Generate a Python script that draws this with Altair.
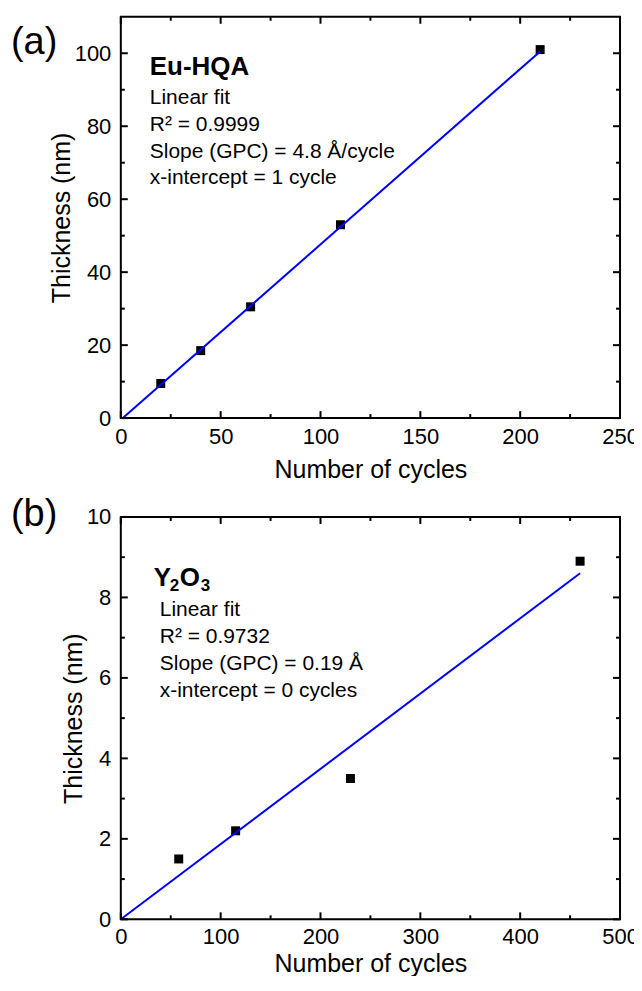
import altair as alt
import pandas as pd

# ---------------- data ----------------
a_cycles = [20, 40, 65, 110, 210]
a_thick = [9.5, 18.5, 30.5, 53, 101]
a_fit_x = [1, 210]
a_fit_y = [0, 100.5]

b_cycles = [58, 115, 230, 460]
b_thick = [1.5, 2.2, 3.5, 8.9]
b_fit_x = [0, 460]
b_fit_y = [0, 8.6]

a_xticks = [0, 50, 100, 150, 200, 250]
a_xminor = [25, 75, 125, 175, 225]
a_yticks = [0, 20, 40, 60, 80, 100]
a_yminor = [10, 30, 50, 70, 90]
b_xticks = [0, 100, 200, 300, 400, 500]
b_xminor = [50, 150, 250, 350, 450]
b_yticks = [0, 2, 4, 6, 8, 10]
b_yminor = [1, 3, 5, 7, 9]

a_label = "(a)"
b_label = "(b)"
a_title = "Eu-HQA"
a_lines = ["Linear fit", "R² = 0.9999", "Slope (GPC) = 4.8 Å/cycle", "x-intercept = 1 cycle"]
b_title_parts = ["Y", "2", "O", "3"]
b_lines = ["Linear fit", "R² = 0.9732", "Slope (GPC) = 0.19 Å", "x-intercept = 0 cycles"]

x_title = "Number of cycles"
y_title = "Thickness (nm)"

FONT = "Liberation Sans"
MAJ = 7
MIN = 4


def txt(s, x, y, size=21, weight="normal", align="left"):
    return alt.Chart(alt.Data(values=[{"k": 0}])).mark_text(
        font=FONT, fontSize=size, fontWeight=weight, align=align,
        baseline="alphabetic", color="black"
    ).encode(x=alt.value(x), y=alt.value(y), text=alt.value(s))


def panel(cyc, thk, fx, fy, xdom, ydom, xt, xm, yt, ym, w, h, texts, xlp, xtp):
    pts = pd.DataFrame({"x": cyc, "y": thk})
    fit = pd.DataFrame({"x": fx, "y": fy})
    xs = alt.Scale(domain=xdom, nice=False, zero=False)
    ys = alt.Scale(domain=ydom, nice=False, zero=False)

    xaxis = alt.Axis(orient="bottom", values=xt, ticks=False, tickSize=0, domain=False,
                     grid=False, labelFlush=False, labelOverlap=False, labelPadding=xlp,
                     format="d", title=x_title, titlePadding=xtp)
    yaxis = alt.Axis(orient="left", values=yt, ticks=False, tickSize=0, domain=False,
                     grid=False, labelFlush=False, labelOverlap=False, labelPadding=10,
                     format="d", title=y_title, titlePadding=0)

    points = alt.Chart(pts).mark_square(size=81, color="black", opacity=1).encode(
        x=alt.X("x:Q", scale=xs, axis=xaxis),
        y=alt.Y("y:Q", scale=ys, axis=yaxis))
    line = alt.Chart(fit).mark_line(color="#0000ff", strokeWidth=2).encode(
        x=alt.X("x:Q", scale=xs, axis=None),
        y=alt.Y("y:Q", scale=ys, axis=None))

    def xticks_layer(vals, size):
        df = pd.DataFrame({"v": vals})
        base = alt.Chart(df).mark_rule(color="black", strokeWidth=2)
        bot = base.encode(x=alt.X("v:Q", scale=xs, axis=None),
                          y=alt.value(h), y2=alt.value(h - size))
        top = base.encode(x=alt.X("v:Q", scale=xs, axis=None),
                          y=alt.value(0), y2=alt.value(size))
        return [bot, top]

    def yticks_layer(vals, size):
        df = pd.DataFrame({"v": vals})
        base = alt.Chart(df).mark_rule(color="black", strokeWidth=2)
        left = base.encode(y=alt.Y("v:Q", scale=ys, axis=None),
                           x=alt.value(0), x2=alt.value(size))
        right = base.encode(y=alt.Y("v:Q", scale=ys, axis=None),
                            x=alt.value(w), x2=alt.value(w - size))
        return [left, right]

    ticks = (xticks_layer(xt, MAJ) + xticks_layer(xm, MIN)
             + yticks_layer(yt, MAJ) + yticks_layer(ym, MIN))
    return alt.layer(points, line, *ticks, *texts).resolve_axis(
        x="independent", y="independent").properties(width=w, height=h)


a_texts = [
    txt(a_label, -110, 37, size=38),
    txt(a_title, 29, 58, size=26, weight="bold"),
] + [txt(s, 29, 87 + 27 * i) for i, s in enumerate(a_lines)]

b_texts = [
    txt(b_label, -110, 9, size=38),
    txt(b_title_parts[0], 33, 69, size=26, weight="bold"),
    txt(b_title_parts[1], 49, 74, size=17, weight="bold"),
    txt(b_title_parts[2], 59, 69, size=26, weight="bold"),
    txt(b_title_parts[3], 80, 74, size=17, weight="bold"),
] + [txt(s, 39, 99 + 27 * i) for i, s in enumerate(b_lines)]

pa = panel(a_cycles, a_thick, a_fit_x, a_fit_y, [0, 250], [0, 110],
           a_xticks, a_xminor, a_yticks, a_yminor, 500, 402, a_texts, 8, 10)
pb = panel(b_cycles, b_thick, b_fit_x, b_fit_y, [0, 500], [0, 10],
           b_xticks, b_xminor, b_yticks, b_yminor, 500, 403, b_texts, 7, 4)

chart = alt.vconcat(pa, pb, spacing=99, bounds="flush").properties(
    padding={"left": 2, "top": 6, "right": -6, "bottom": -2}
).configure_view(stroke="black", strokeWidth=2, fill="transparent").configure_axis(
    labelFont=FONT, labelFontSize=22, labelColor="black",
    titleFont=FONT, titleFontSize=25, titleFontWeight="normal", titleColor="black",
)

chart.save("out.html", embed_options={"renderer": "svg", "actions": False})
